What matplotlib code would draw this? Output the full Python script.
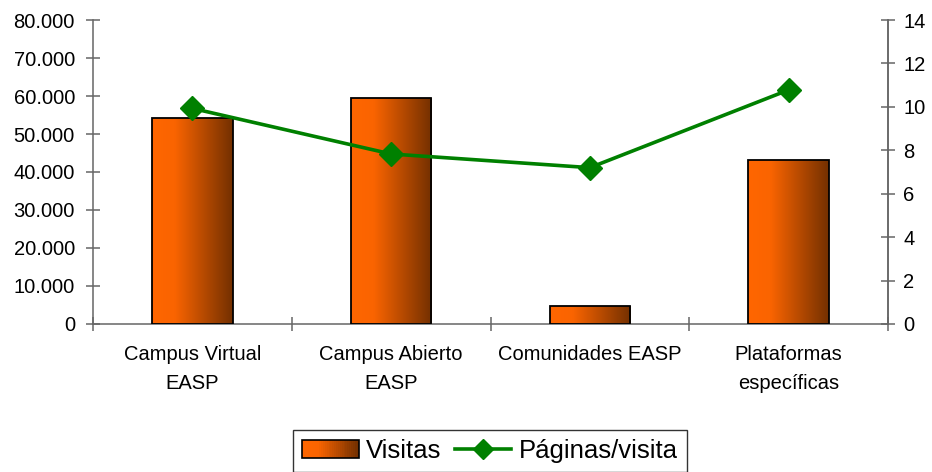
import matplotlib

matplotlib.use("Agg")
import matplotlib.pyplot as plt
import numpy as np
from matplotlib.colors import LinearSegmentedColormap
from matplotlib.legend_handler import HandlerBase
from matplotlib.lines import Line2D
from matplotlib.patches import Rectangle
from matplotlib.ticker import FuncFormatter

plt.rcParams["font.family"] = ["Liberation Sans", "DejaVu Sans"]

categories = ["Campus Virtual\nEASP", "Campus Abierto\nEASP", "Comunidades EASP",
              "Plataformas\nespecíficas"]
visitas = [54200, 59500, 4700, 43200]
paginas_visita = [9.93, 7.83, 7.2, 10.78]
left_ticks = [0, 10000, 20000, 30000, 40000, 50000, 60000, 70000, 80000]
right_ticks = [0, 2, 4, 6, 8, 10, 12, 14]

ORANGE = "#FF6600"
BROWN = "#733000"
GREEN = "#008000"
AXIS = "#666666"
grad = LinearSegmentedColormap.from_list(
    "bar", [(0, ORANGE), (0.28, "#FA6400"), (1, BROWN)])


class GradientHandler(HandlerBase):
    # legend key: thin strips giving the same left-to-right fade as the bars
    def create_artists(self, legend, orig, xd, yd, w, h, fs, trans):
        arts = []
        n = 30
        for i in range(n):
            arts.append(Rectangle((-xd + w * i / n, -yd), w / n + 0.3, h,
                                  fc=grad(i / (n - 1)), ec="none", transform=trans))
        arts.append(Rectangle((-xd, -yd), w, h, fc="none", ec="black", lw=1.2,
                              transform=trans))
        return arts


fig = plt.figure(figsize=(9.32, 4.72), dpi=100)
ax = fig.add_axes([0.0998, 0.3136, 0.853, 0.644])
x = np.arange(len(categories))

bars = ax.bar(x, visitas, width=0.405, color="none", edgecolor="black", lw=1.3, zorder=3)
img = np.linspace(0, 1, 256).reshape(1, -1)
for b in bars:
    im = ax.imshow(img, cmap=grad, aspect="auto", zorder=2,
                   extent=(b.get_x(), b.get_x() + b.get_width(), 0, b.get_height()))
    im.set_clip_path(b)

ax.set_xlim(-0.5, len(categories) - 0.5)
ax.set_ylim(0, 80000)
ax.set_yticks(left_ticks)
ax.yaxis.set_major_formatter(FuncFormatter(lambda v, p: f"{int(v):,}".replace(",", ".")))
ax.set_xticks(np.arange(len(categories) + 1) - 0.5)
ax.set_xticklabels([])
ax.set_xticks(x, minor=True)
ax.set_xticklabels(categories, minor=True, linespacing=1.7)
ax.tick_params(axis="x", which="minor", length=0, pad=15, labelsize=14.5)
ax.tick_params(axis="x", which="major", direction="inout", length=10, width=1.1, color=AXIS)
ax.tick_params(axis="y", direction="inout", length=10, width=1.1, color=AXIS,
               pad=8, labelsize=14.5)
ax.spines["top"].set_visible(False)
for s in ("left", "bottom", "right"):
    ax.spines[s].set_color(AXIS)
    ax.spines[s].set_linewidth(1.1)

ax2 = ax.twinx()
ax2.plot(x, paginas_visita, color=GREEN, lw=2.6, marker="D", ms=12.5, zorder=4)
ax2.set_ylim(0, 14)
ax2.set_yticks(right_ticks)
ax2.tick_params(axis="y", direction="inout", length=10, width=1.1, color=AXIS,
                pad=6, labelsize=14.5)
ax2.spines["top"].set_visible(False)
ax2.spines["left"].set_visible(False)
ax2.spines["bottom"].set_visible(False)
ax2.spines["right"].set_color(AXIS)
ax2.spines["right"].set_linewidth(1.1)

bar_handle = Rectangle((0, 0), 1, 1)
line_handle = Line2D([], [], color=GREEN, lw=2.6, marker="D", ms=10)
leg = fig.legend([bar_handle, line_handle], ["Visitas", "Páginas/visita"],
                 loc="upper center", bbox_to_anchor=(490 / 932, 42 / 472), ncol=2,
                 fontsize=18.5, frameon=True, fancybox=False, edgecolor="black",
                 handlelength=2.2, handletextpad=0.3, columnspacing=0.5,
                 borderpad=0.35, borderaxespad=0,
                 handler_map={Rectangle: GradientHandler()})
leg.get_frame().set_linewidth(1.0)

fig.savefig("out.png", dpi=100)
